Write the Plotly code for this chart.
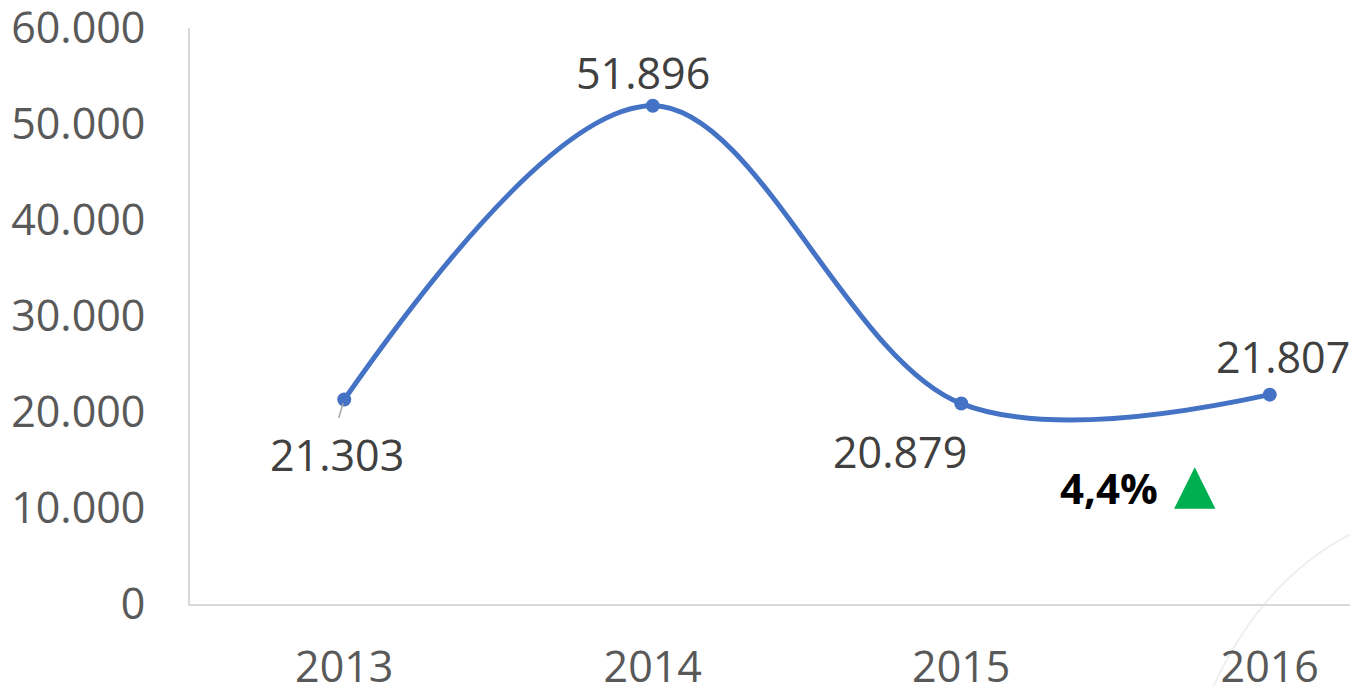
import plotly.graph_objects as go

anos = ["2013", "2014", "2015", "2016"]
valores = [21303, 51896, 20879, 21807]
etiquetas = ["21.303", "51.896", "20.879", "21.807"]
ticks_y = [0, 10000, 20000, 30000, 40000, 50000, 60000]
ticks_y_txt = ["0", "10.000", "20.000", "30.000", "40.000", "50.000", "60.000"]
variacion = "4,4%"

fig = go.Figure()
fig.add_trace(
    go.Scatter(
        x=[0, 1, 2, 3],
        y=valores,
        mode="lines+markers",
        line=dict(color="#4472C4", width=5, shape="spline", smoothing=1),
        marker=dict(color="#4472C4", size=14),
        hoverinfo="skip",
    )
)

# posiciones de las etiquetas (desplazamientos en px)
desp = [(-7, -55), (-10, 33), (-61, -48), (13, 38)]
for i, (dx, dy) in enumerate(desp):
    fig.add_annotation(
        x=i, y=valores[i], text=etiquetas[i], showarrow=False,
        xshift=dx, yshift=dy, font=dict(size=43, color="#404040"),
    )

# pequeña línea guía de 2013
fig.add_annotation(
    x=0, y=valores[0], ax=-6, ay=20, text="", showarrow=True,
    arrowhead=0, arrowwidth=1.5, arrowcolor="#a6a6a6", standoff=4,
)

fig.add_annotation(
    x=2.48, y=12100, text="<b>" + variacion + "</b>", showarrow=False,
    font=dict(size=42, color="#000000"),
)
fig.add_annotation(
    x=2.758, y=12600, text="▲", showarrow=False,
    font=dict(size=54, color="#00B050", family="DejaVu Sans"),
)

# arco decorativo tenue
fig.add_shape(
    type="path", xref="paper", yref="paper", layer="below",
    path="M 0.876 -0.144 Q 0.920 0.050 1.0 0.128",
    line=dict(color="#efefef", width=2),
)

# la página deja 8 px de margen al cuerpo
fig.update_layout(
    width=1358, height=687,
    margin=dict(l=182, r=8, t=20, b=91, autoexpand=False),
    paper_bgcolor="white", plot_bgcolor="white",
    showlegend=False,
    font=dict(family="Open Sans", size=43, color="#595959"),
)
fig.update_xaxes(
    range=[-0.5, 3.286], tickvals=[0, 1, 2, 3], ticktext=anos,
    showgrid=False, zeroline=False, showline=True, linecolor="#d9d9d9",
    linewidth=2, ticks="", ticklabelstandoff=24, ticklabeloverflow="allow",
    tickfont=dict(size=43, color="#595959"),
)
fig.update_yaxes(
    range=[0, 60000], tickvals=ticks_y, ticktext=ticks_y_txt,
    showgrid=False, zeroline=False, showline=True, linecolor="#d9d9d9",
    linewidth=2, ticks="", ticklabelstandoff=34, ticklabeloverflow="allow",
    tickfont=dict(size=43, color="#595959"),
)

fig.write_html("out.html")
